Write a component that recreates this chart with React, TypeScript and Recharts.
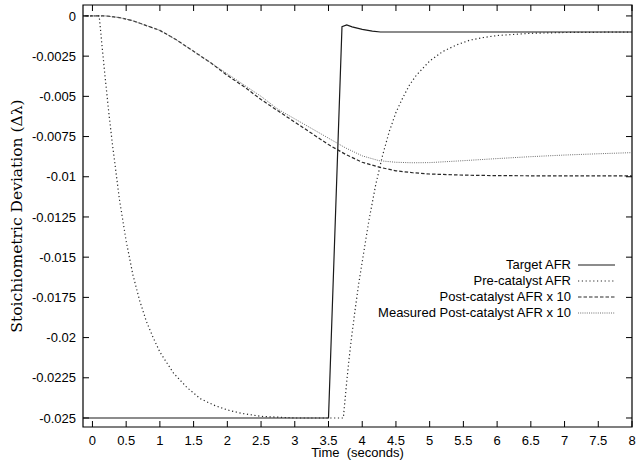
import { LineChart, Line, XAxis, YAxis, Legend, ReferenceArea } from "recharts";

// [time (s), deviation] pairs
const targetAfr = [
  [-0.2, -0.025], [3.5, -0.025], [3.7, -0.00067], [3.77, -0.00056], [3.85, -0.00068],
  [4.0, -0.00084], [4.15, -0.00095], [4.27, -0.001], [8.0, -0.001],
];

const preCatalystAfr = [
  [-0.2, 0], [0.1, 0], [0.15, -0.0022], [0.2, -0.0043], [0.25, -0.0063], [0.3, -0.0081],
  [0.4, -0.0114], [0.5, -0.014], [0.6, -0.0161], [0.7, -0.0177], [0.8, -0.019], [0.9, -0.02],
  [1.0, -0.0209], [1.2, -0.0222], [1.4, -0.0231], [1.6, -0.0238], [1.8, -0.0242], [2.0, -0.0245],
  [2.2, -0.0247], [2.5, -0.0249], [3.0, -0.025], [3.72, -0.025], [3.76, -0.0232], [3.8, -0.0215],
  [3.85, -0.0197], [3.9, -0.0181], [3.95, -0.0166], [4.0, -0.0153], [4.1, -0.0127], [4.2, -0.0105],
  [4.3, -0.0087], [4.4, -0.0072], [4.5, -0.006], [4.6, -0.0051], [4.7, -0.0043], [4.8, -0.0037],
  [5.0, -0.0028], [5.2, -0.0022], [5.4, -0.0018], [5.6, -0.0015], [5.8, -0.00134], [6.0, -0.00122],
  [6.5, -0.00108], [7.0, -0.00103], [8.0, -0.001],
];

const postCatalystAfr = [
  [-0.2, 0], [0.2, 0], [0.4, -0.0001], [0.6, -0.0003], [0.8, -0.0006], [1.0, -0.0009],
  [1.25, -0.0015], [1.5, -0.0022], [1.75, -0.0029], [2.0, -0.0037], [2.25, -0.0044], [2.5, -0.0052],
  [2.75, -0.0059], [3.0, -0.0066], [3.25, -0.0073], [3.5, -0.008], [3.75, -0.0086], [4.0, -0.0091],
  [4.25, -0.0094], [4.5, -0.00963], [4.75, -0.00975], [5.0, -0.00983], [5.5, -0.0099],
  [6.0, -0.00993], [7.0, -0.00995], [8.0, -0.00995],
];

const measuredPostCatalystAfr = [
  [-0.2, 0], [0.2, 0], [0.4, -0.0001], [0.6, -0.0003], [0.8, -0.0006], [1.0, -0.0009],
  [1.25, -0.0015], [1.5, -0.0022], [1.75, -0.0029], [2.0, -0.0036], [2.25, -0.0043], [2.5, -0.005],
  [2.75, -0.0058], [3.0, -0.0064], [3.25, -0.007], [3.5, -0.0076], [3.75, -0.0082], [4.0, -0.0087],
  [4.25, -0.009], [4.5, -0.0091], [4.75, -0.00913], [5.0, -0.00912], [5.5, -0.009], [6.0, -0.00887],
  [6.5, -0.00875], [7.0, -0.00865], [7.5, -0.00857], [8.0, -0.0085],
];

const xTicks = [0, 0.5, 1, 1.5, 2, 2.5, 3, 3.5, 4, 4.5, 5, 5.5, 6, 6.5, 7, 7.5, 8];
const yTicks = [0, -0.0025, -0.005, -0.0075, -0.01, -0.0125, -0.015, -0.0175, -0.02, -0.0225, -0.025];
const xDomain = [-0.14, 8];
const yDomain = [-0.02556, 0.00068];

const seriesNames = [
  "Target AFR",
  "Pre-catalyst AFR",
  "Post-catalyst AFR x 10",
  "Measured Post-catalyst AFR x 10",
];

const W = 637;
const H = 461;
const LEFT = 83;
const RIGHT = 632;
const TOP = 5;
const BOTTOM = 427;
const FONT = "'Liberation Sans', Arial, Helvetica, sans-serif";

const styles = [
  { stroke: "#1a1a1a", width: 1.2, dash: undefined },
  { stroke: "#2a2a2a", width: 1.2, dash: "1.2 2.6" },
  { stroke: "#2a2a2a", width: 1.2, dash: "3.5 2" },
  { stroke: "#707070", width: 1, dash: "1 1.2" },
];

const toRows = (pairs: number[][]) => pairs.map(([t, v]) => ({ t, v }));
const allSeries = [targetAfr, preCatalystAfr, postCatalystAfr, measuredPostCatalystAfr].map(toRows);

// gnuplot style: ticks point inward and are mirrored on the opposite side
const LeftTick = ({ y, payload }: any) => (
  <g>
    <line x1={LEFT} x2={LEFT + 6} y1={y} y2={y} stroke="#000" />
    <line x1={RIGHT} x2={RIGHT - 6} y1={y} y2={y} stroke="#000" />
    <text x={LEFT - 7} y={y} dy="0.36em" textAnchor="end" fontSize={13} fontFamily={FONT} fill="#000">
      {String(payload.value)}
    </text>
  </g>
);

const BottomTick = ({ x, payload }: any) => (
  <g>
    <line x1={x} x2={x} y1={BOTTOM} y2={BOTTOM - 6} stroke="#000" />
    <line x1={x} x2={x} y1={TOP} y2={TOP + 6} stroke="#000" />
    <text x={x} y={445} textAnchor="middle" fontSize={13} fontFamily={FONT} fill="#000">
      {String(payload.value)}
    </text>
  </g>
);

const renderLegend = () => (
  <div style={{ width: W, fontFamily: FONT, fontSize: 13, color: "#000" }}>
    {seriesNames.map((name, i) => (
      <div
        key={name}
        style={{ height: 16, display: "flex", alignItems: "center", justifyContent: "flex-end", paddingRight: W - 615 }}
      >
        <span style={{ lineHeight: "16px" }}>{name}</span>
        <svg width={37} height={4} style={{ marginLeft: 7 }}>
          <line
            x1={0}
            x2={37}
            y1={2}
            y2={2}
            stroke={styles[i].stroke}
            strokeWidth={styles[i].width}
            strokeDasharray={styles[i].dash}
          />
        </svg>
      </div>
    ))}
  </div>
);

export default function App() {
  return (
    <div style={{ position: "absolute", left: 0, top: 0, width: W, height: H, background: "#fff" }}>
      <LineChart width={W} height={H} margin={{ top: TOP, right: W - RIGHT, bottom: 0, left: 0 }}>
        <XAxis
          dataKey="t"
          type="number"
          domain={xDomain}
          allowDataOverflow
          ticks={xTicks}
          interval={0}
          height={H - BOTTOM}
          axisLine={false}
          tickLine={false}
          tick={<BottomTick />}
          label={() => (
            <text x={(LEFT + RIGHT) / 2} y={457} textAnchor="middle" fontSize={13} fontFamily={FONT} fill="#000">
              {"Time\u00a0\u00a0(seconds)"}
            </text>
          )}
        />
        <YAxis
          type="number"
          domain={yDomain}
          allowDataOverflow
          ticks={yTicks}
          interval={0}
          width={LEFT}
          axisLine={false}
          tickLine={false}
          tick={<LeftTick />}
          label={() => (
            <text
              x={22}
              y={216}
              transform="rotate(-90 22 216)"
              textAnchor="middle"
              fontSize={15.5}
              fontFamily="'DejaVu Serif', 'Liberation Serif', serif"
              fill="#000"
            >
              Stoichiometric Deviation (Δλ)
            </text>
          )}
        />
        <ReferenceArea
          x1={xDomain[0]}
          x2={xDomain[1]}
          y1={yDomain[0]}
          y2={yDomain[1]}
          fill="none"
          fillOpacity={0}
          stroke="#000"
          strokeWidth={1.2}
          ifOverflow="visible"
        />
        {allSeries.map((rows, i) => (
          <Line
            key={seriesNames[i]}
            data={rows}
            dataKey="v"
            name={seriesNames[i]}
            type="linear"
            stroke={styles[i].stroke}
            strokeWidth={styles[i].width}
            strokeDasharray={styles[i].dash}
            dot={false}
            activeDot={false}
            isAnimationActive={false}
          />
        ))}
        <Legend
          content={renderLegend}
          layout="horizontal"
          verticalAlign="middle"
          align="center"
          wrapperStyle={{ left: 0, top: 257, width: W, bottom: "auto" }}
        />
      </LineChart>
    </div>
  );
}
